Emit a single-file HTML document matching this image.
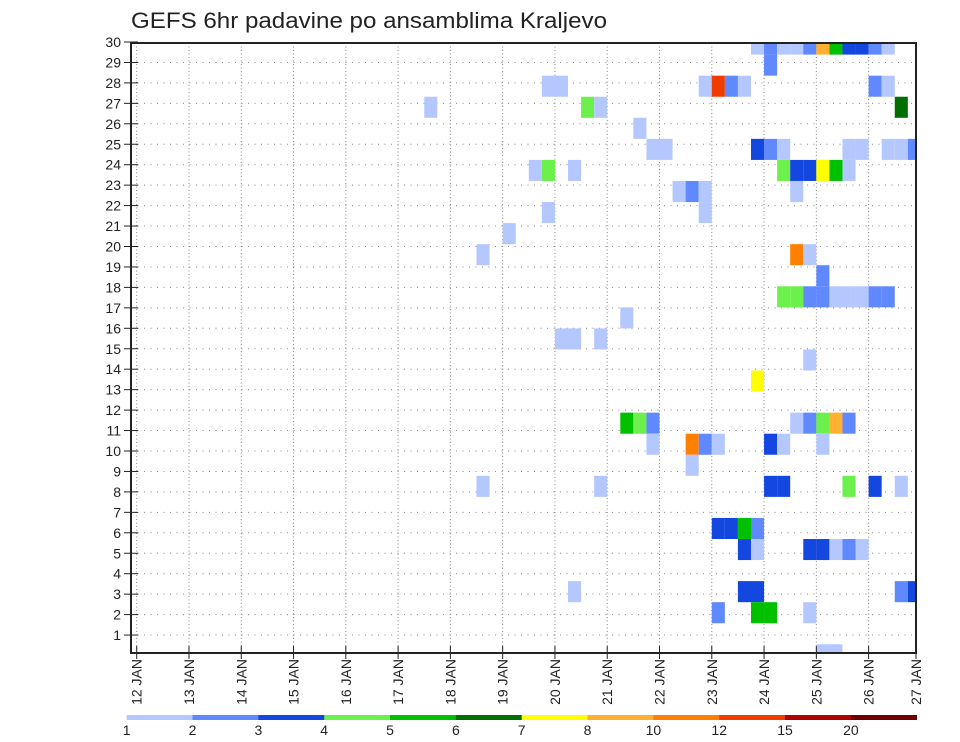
<!DOCTYPE html>
<html><head><meta charset="utf-8"><style>
html,body{margin:0;padding:0;background:#fff;}
svg{display:block;}
text{font-family:"Liberation Sans",sans-serif;fill:#222;}
</style></head><body>
<svg id="chart" width="960" height="742" viewBox="0 0 960 742" xmlns="http://www.w3.org/2000/svg">
<defs><clipPath id="plotclip"><rect x="131" y="43" width="785" height="610"/></clipPath></defs>
<text x="131" y="28" font-size="22" textLength="476" lengthAdjust="spacingAndGlyphs">GEFS 6hr padavine po ansamblima Kraljevo</text>
<g id="grid"></g>
<g id="cells" clip-path="url(#plotclip)"></g>
<rect x="131" y="43" width="785" height="610" fill="none" stroke="#222" stroke-width="2"/>
<g id="yaxis"></g>
<g id="xaxis"></g>
<g id="legend"></g>
</svg>
<script>
// ---- data ----
const yTicks = [1,2,3,4,5,6,7,8,9,10,11,12,13,14,15,16,17,18,19,20,21,22,23,24,25,26,27,28,29,30];
const dayTicks = [12,13,14,15,16,17,18,19,20,21,22,23,24,25,26,27];
const legendLevels = [1,2,3,4,5,6,7,8,10,12,15,20];
const legendColors = ["#b4c8ff","#6088ff","#1446e0","#6cf04c","#00c000","#006e00","#ffff00","#ffb030","#ff8000","#f03c00","#b00000","#700000"];
// cells: ensemble member, 6h step index from 12 JAN 00Z, precip (mm)
const cellMember = [29,29,29,29,29,29,29,29,29,29,29, 28, 27,27,27,27,27,27,27,27, 26,26,26,26, 25, 24,24,24,24,24,24,24,24,24,24, 23,23,23,23,23,23,23,23,23, 22,22,22,22, 21,21, 20, 19,19,19, 18, 17,17,17,17,17,17,17,17,17, 16, 15,15,15, 14, 13, 11,11,11,11,11,11,11,11, 10,10,10,10,10,10,10, 9, 8,8,8,8,8,8,8, 6,6,6,6, 5,5,5,5,5,5,5, 3,3,3,3,3, 2,2,2,2, 0,0];
const cellStep   = [47,48,49,50,51,52,53,54,55,56,57, 48, 31,32,43,44,45,46,56,57, 22,34,35,58, 38, 39,40,47,48,49,54,55,57,58,59, 30,31,33,49,50,51,52,53,54, 41,42,43,50, 31,43, 28, 26,50,51, 52, 49,50,51,52,53,54,55,56,57, 37, 32,33,35, 51, 47, 37,38,39,50,51,52,53,54, 39,42,43,44,48,49,52, 42, 26,35,48,49,54,56,58, 44,45,46,47, 46,47,51,52,53,54,55, 33,46,47,58,59, 44,47,48,51, 52,53];
const cellValue  = [1.5,2.5,1.5,1.5,2.5,9,5.5,3.5,3.5,2.5,1.5, 2.5, 1.5,1.5,1.5,13.5,2.5,1.5,2.5,1.5, 1.5,4.5,1.5,6.5, 1.5, 1.5,1.5,3.5,2.5,1.5,1.5,1.5,1.5,1.5,2.5, 1.5,4.5,1.5,4.5,3.5,3.5,7.5,5.5,1.5, 1.5,2.5,1.5,1.5, 1.5,1.5, 1.5, 1.5,11,1.5, 2.5, 4.5,4.5,2.5,2.5,1.5,1.5,1.5,2.5,2.5, 1.5, 1.5,1.5,1.5, 1.5, 7.5, 5.5,4.5,2.5,1.5,2.5,4.5,9,2.5, 1.5,11,2.5,1.5,3.5,1.5,1.5, 1.5, 1.5,1.5,3.5,3.5,4.5,3.5,1.5, 3.5,3.5,5.5,2.5, 3.5,1.5,3.5,3.5,1.5,2.5,1.5, 1.5,3.5,3.5,2.5,3.5, 2.5,5.5,5.5,1.5, 1.5,1.5];

// ---- scales ----
const PL=131, PR=916, PT=43, PB=653;
const dayX = d => Math.min(136.7 + (d-12)*52.28, PR);
const stepX = k => 136.7 + k*13.07;
const stepW = 13.07;
const yVal = v => 655.5 - v*20.45;
const memberTop = m => 644.3 - m*21.06;
const memberH = 21.06;
function colorFor(v){ let i=0; for(let j=0;j<legendLevels.length;j++){ if(v>=legendLevels[j]) i=j; } return legendColors[i]; }
const NS="http://www.w3.org/2000/svg";
function mk(tag, attrs, parent){ const e=document.createElementNS(NS,tag); for(const a in attrs) e.setAttribute(a, attrs[a]); parent.appendChild(e); return e; }

// grid
const grid=document.getElementById('grid');
yTicks.forEach(v=>{ if(v>=30) return;
  const l=mk('line',{x1:PL,x2:PR,y1:yVal(v),y2:yVal(v),stroke:'#888','stroke-width':1,'stroke-dasharray':'1,5.5'},grid);
  
  
});
dayTicks.forEach(d=>{ if(dayX(d)>=PR) return;
  const l=mk('line',{x1:dayX(d),x2:dayX(d),y1:PT,y2:PB,stroke:'#888','stroke-width':1,'stroke-dasharray':'1,2.5'},grid);
  
  
});

// cells
const cg=document.getElementById('cells');
for(let i=0;i<cellMember.length;i++){
  const r=mk('rect',{x:stepX(cellStep[i]),y:memberTop(cellMember[i]),width:stepW,height:memberH,fill:colorFor(cellValue[i])},cg);
  
  
}

// y axis
const ya=document.getElementById('yaxis');
yTicks.forEach(v=>{
  const t=mk('line',{x1:PL-7,x2:PL+7,y1:yVal(v),y2:yVal(v),stroke:'#222','stroke-width':1},ya);
  
  
  const tx=mk('text',{x:PL-10,y:yVal(v)+5,'font-size':14,'text-anchor':'end'},ya);
  tx.textContent=v;
  
  
});

// x axis
const xa=document.getElementById('xaxis');
dayTicks.forEach(d=>{
  const x=dayX(d);
  const t=mk('line',{x1:x,x2:x,y1:PB-7,y2:PB+6,stroke:'#222','stroke-width':1},xa);
  
  
  const tx=mk('text',{x:0,y:0,'font-size':14,'text-anchor':'end',transform:`translate(${x+5},${PB+6}) rotate(-90)`},xa);
  tx.textContent=d+' JAN';
  
  
});

// legend
const lg=document.getElementById('legend');
const LX0=126.7, LW=(916.7-126.7)/legendColors.length;
legendColors.forEach((c,i)=>{
  const r=mk('rect',{x:LX0+i*LW,y:715,width:LW+0.3,height:5,fill:c},lg);
  
  
});
legendLevels.forEach((v,i)=>{
  const tx=mk('text',{x:LX0+i*LW,y:735,'font-size':14,'text-anchor':'middle'},lg);
  tx.textContent=v;
  
  
});
</script>
</body></html>
